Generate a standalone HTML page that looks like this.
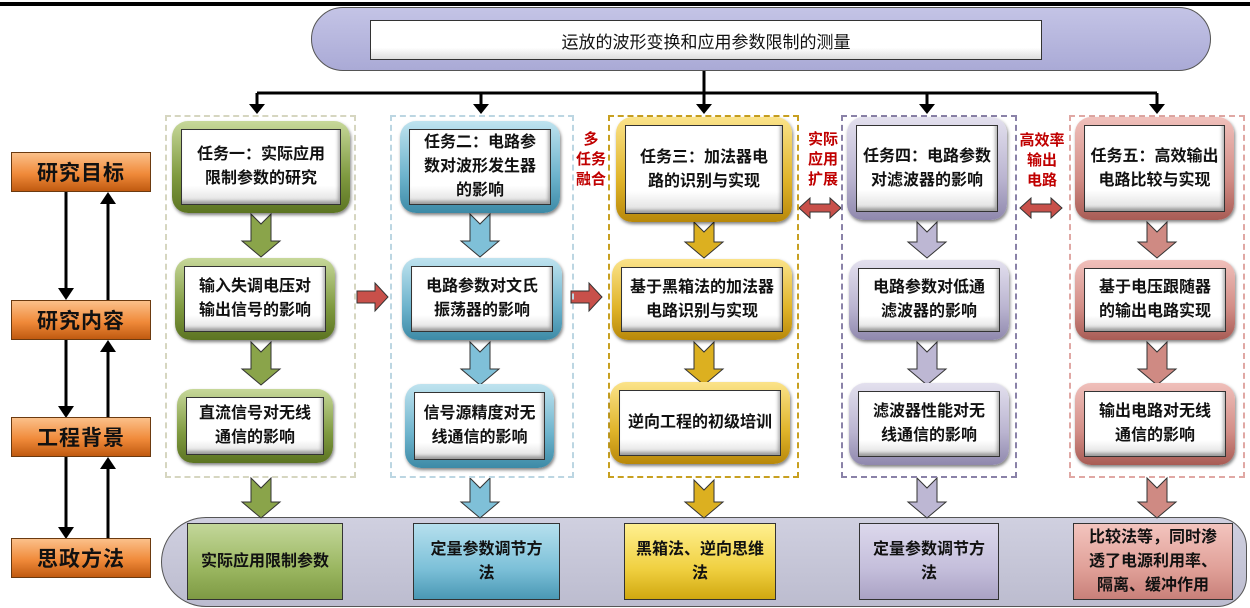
<!DOCTYPE html>
<html><head><meta charset="utf-8"><style>
*{margin:0;padding:0;box-sizing:border-box}
body{width:1250px;height:608px;background:#fff;position:relative;overflow:hidden;font-family:"Liberation Sans","Noto Sans CJK SC",sans-serif}
.a{position:absolute}
.lab{position:absolute;left:11px;width:140px;height:40px;border:1px solid #6b3a10;background:linear-gradient(#fbc08a,#f08a3a 55%,#c05a10);font-size:21px;font-weight:bold;color:#111;display:flex;align-items:center;justify-content:center;letter-spacing:1px}
.card{position:absolute;border-radius:16px;padding:8px 9px;box-shadow:1px 2px 3px rgba(0,0,0,.5)}
.card .in{width:100%;height:100%;background:linear-gradient(#fff 75%,#ddd);border:1px solid #333;display:flex;align-items:center;justify-content:center;text-align:center;font-size:16px;font-weight:bold;line-height:24px;color:#111;box-shadow:inset -2px -3px 3px rgba(0,0,0,.3)}
.g{background:linear-gradient(#c7d89a,#7f9a40 60%,#5c7422)}
.b{background:linear-gradient(#bfe3ef,#6db3cc 60%,#3d8aa6)}
.y{background:linear-gradient(#fbe38a,#e0b42a 60%,#b8880a)}
.p{background:linear-gradient(#e3e0ee,#bab4d0 60%,#8f88ad)}
.r{background:linear-gradient(#f0c0bb,#d28d86 60%,#a85c55)}
.dash{position:absolute;border:2px dashed;top:115px;height:363px}
.bot{position:absolute;top:523px;height:77px;border:1px solid #333;display:flex;align-items:center;justify-content:center;text-align:center;font-size:16px;font-weight:bold;line-height:24px;color:#111}
.red{position:absolute;color:#c00000;font-weight:bold;font-size:15px;line-height:20px;text-align:center}
</style></head><body>
<div class="a" style="left:0;top:2px;width:1250px;height:4px;background:#000"></div>
<div class="a" style="left:311px;top:7px;width:900px;height:64px;border:1px solid #555;border-radius:32px;background:linear-gradient(#c4c4e6,#aaaad6)"></div>
<div class="a" style="left:370px;top:20px;width:672px;height:40px;border:1px solid #333;background:linear-gradient(#fff 70%,#ddd);display:flex;align-items:center;justify-content:center;font-size:17px;color:#111">运放的波形变换和应用参数限制的测量</div>

<div class="a" style="left:161px;top:517px;width:1086px;height:90px;border:1px solid #555;border-radius:45px 30px 30px 45px;background:linear-gradient(#d0d0e0,#bcbccf)"></div>

<svg class="a" style="left:0;top:0" width="1250" height="608">
<defs><marker id="m" markerWidth="8" markerHeight="8" refX="4" refY="4" orient="auto"><path d="M0,0L8,4L0,8z" fill="#000"/></marker></defs>
<g stroke="#000" stroke-width="3" fill="none">
<line x1="704" y1="71" x2="704" y2="93"/>
<line x1="257" y1="93" x2="1157" y2="93"/>
<line x1="257" y1="93" x2="257" y2="106"/><line x1="481" y1="93" x2="481" y2="106"/><line x1="704" y1="93" x2="704" y2="106"/><line x1="927" y1="93" x2="927" y2="106"/><line x1="1157" y1="93" x2="1157" y2="106"/>
<line x1="66" y1="192" x2="66" y2="290"/><line x1="108" y1="300" x2="108" y2="202"/>
<line x1="66" y1="340" x2="66" y2="408"/><line x1="108" y1="417" x2="108" y2="350"/>
<line x1="66" y1="457" x2="66" y2="529"/><line x1="108" y1="538" x2="108" y2="467"/>
</g>
<g fill="#000">
<path d="M249,104h16l-8,10z"/><path d="M473,104h16l-8,10z"/><path d="M696,104h16l-8,10z"/><path d="M919,104h16l-8,10z"/><path d="M1149,104h16l-8,10z"/>
<path d="M58,288h16l-8,12z"/><path d="M100,204h16l-8,-12z"/>
<path d="M58,406h16l-8,12z"/><path d="M100,352h16l-8,-12z"/>
<path d="M58,527h16l-8,12z"/><path d="M100,469h16l-8,-12z"/>
</g>
<g stroke="#333" stroke-width="1">
<g fill="#8aa44a"><path d="M251,214l10,10l10,-10v27h9l-19,16l-19,-16h9z"/><path d="M251,342l10,10l10,-10v27h9l-19,16l-19,-16h9z"/><path d="M251,478l10,10l10,-10v24h9l-19,16l-19,-16h9z"/></g>
<g fill="#7fc0d8"><path d="M470,214l10,10l10,-10v27h9l-19,16l-19,-16h9z"/><path d="M470,342l10,10l10,-10v27h9l-19,16l-19,-16h9z"/><path d="M470,478l10,10l10,-10v24h9l-19,16l-19,-16h9z"/></g>
<g fill="#dcb020"><path d="M694,222l10,10l10,-10v20h9l-19,16l-19,-16h9z"/><path d="M694,342l10,10l10,-10v27h9l-19,16l-19,-16h9z"/><path d="M694,480l10,10l10,-10v22h9l-19,16l-19,-16h9z"/></g>
<g fill="#bdb7d3"><path d="M917,222l10,10l10,-10v20h9l-19,16l-19,-16h9z"/><path d="M917,342l10,10l10,-10v27h9l-19,16l-19,-16h9z"/><path d="M917,478l10,10l10,-10v24h9l-19,16l-19,-16h9z"/></g>
<g fill="#cf8a83"><path d="M1147,222l10,10l10,-10v20h9l-19,16l-19,-16h9z"/><path d="M1147,342l10,10l10,-10v27h9l-19,16l-19,-16h9z"/><path d="M1147,478l10,10l10,-10v24h9l-19,16l-19,-16h9z"/></g>
<g fill="#c8504a">
<path d="M357,291h18v-8l13,14l-13,14v-8h-18z"/>
<path d="M571,291h18v-8l13,14l-13,14v-8h-18z"/>
<path d="M799,208l11,-10v6h20v-6l11,10l-11,10v-6h-20v6z"/>
<path d="M1020,208l11,-10v6h20v-6l11,10l-11,10v-6h-20v6z"/>
</g>
</g>
</svg>

<div class="lab" style="top:152px">研究目标</div>
<div class="lab" style="top:300px">研究内容</div>
<div class="lab" style="top:417px">工程背景</div>
<div class="lab" style="top:538px">思政方法</div>

<div class="dash" style="left:165px;width:191px;border-color:#d6d6c0"></div>
<div class="dash" style="left:390px;width:184px;border-color:#bcd6e2"></div>
<div class="dash" style="left:608px;width:191px;border-color:#c8a020"></div>
<div class="dash" style="left:841px;width:176px;border-color:#8a82a8"></div>
<div class="dash" style="left:1069px;width:176px;border-color:#e0a8a4"></div>

<div class="red" style="left:576px;top:130px;width:30px">多<br>任务<br>融合</div>
<div class="red" style="left:805px;top:130px;width:36px">实际<br>应用<br>扩展</div>
<div class="red" style="left:1014px;top:131px;width:56px">高效率<br>输出<br>电路</div>

<div class="card g" style="left:172px;top:121px;width:178px;height:92px"><div class="in">任务一：实际应用<br>限制参数的研究</div></div>
<div class="card g" style="left:175px;top:258px;width:160px;height:82px"><div class="in">输入失调电压对<br>输出信号的影响</div></div>
<div class="card g" style="left:177px;top:389px;width:156px;height:74px"><div class="in">直流信号对无线<br>通信的影响</div></div>

<div class="card b" style="left:400px;top:121px;width:160px;height:92px"><div class="in">任务二：电路参<br>数对波形发生器<br>的影响</div></div>
<div class="card b" style="left:402px;top:258px;width:160px;height:82px"><div class="in">电路参数对文氏<br>振荡器的影响</div></div>
<div class="card b" style="left:405px;top:384px;width:149px;height:84px"><div class="in">信号源精度对无<br>线通信的影响</div></div>

<div class="card y" style="left:616px;top:117px;width:176px;height:105px"><div class="in">任务三：加法器电<br>路的识别与实现</div></div>
<div class="card y" style="left:612px;top:259px;width:180px;height:81px"><div class="in">基于黑箱法的加法器<br>电路识别与实现</div></div>
<div class="card y" style="left:610px;top:382px;width:180px;height:82px"><div class="in">逆向工程的初级培训</div></div>

<div class="card p" style="left:847px;top:117px;width:160px;height:103px"><div class="in">任务四：电路参数<br>对滤波器的影响</div></div>
<div class="card p" style="left:849px;top:260px;width:160px;height:80px"><div class="in">电路参数对低通<br>滤波器的影响</div></div>
<div class="card p" style="left:849px;top:383px;width:160px;height:82px"><div class="in">滤波器性能对无<br>线通信的影响</div></div>

<div class="card r" style="left:1075px;top:117px;width:159px;height:103px"><div class="in">任务五：高效输出<br>电路比较与实现</div></div>
<div class="card r" style="left:1075px;top:260px;width:160px;height:80px"><div class="in">基于电压跟随器<br>的输出电路实现</div></div>
<div class="card r" style="left:1075px;top:383px;width:160px;height:82px"><div class="in">输出电路对无线<br>通信的影响</div></div>

<div class="bot" style="left:187px;width:156px;background:linear-gradient(#c3d79a,#9ab660 60%,#7e9a44)">实际应用限制参数</div>
<div class="bot" style="left:413px;width:147px;background:linear-gradient(#b6e0ee,#7cc0d8 60%,#4a98b4)">定量参数调节方<br>法</div>
<div class="bot" style="left:624px;width:152px;background:linear-gradient(#fff090,#f0d040 60%,#d0a810)">黑箱法、逆向思维<br>法</div>
<div class="bot" style="left:859px;width:140px;background:linear-gradient(#dcd8ec,#c4bedb 60%,#aaa2c4)">定量参数调节方<br>法</div>
<div class="bot" style="left:1073px;width:160px;background:linear-gradient(#f3c4be,#e0a098 60%,#c8807a)">比较法等，同时渗<br>透了电源利用率、<br>隔离、缓冲作用</div>
</body></html>
